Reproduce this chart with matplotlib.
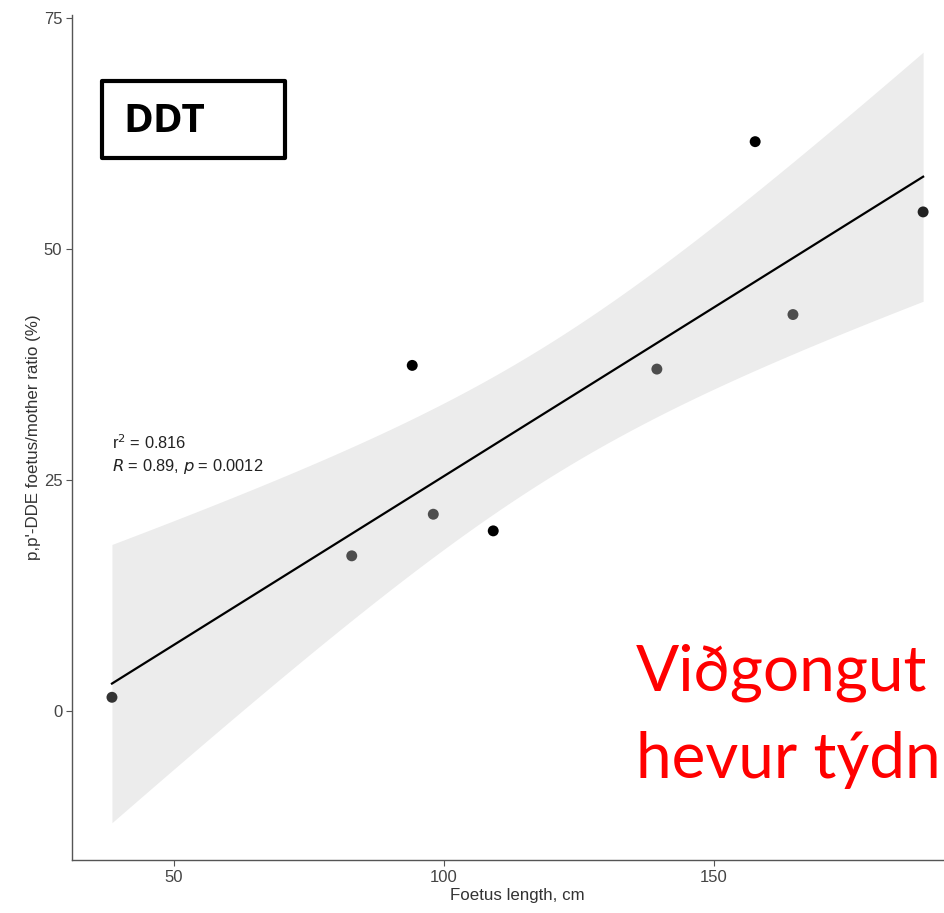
import matplotlib.pyplot as plt
import numpy as np

# foetus length (cm) vs p,p'-DDE foetus/mother ratio (%)
length = np.array([38.5, 82.9, 94.1, 98.0, 109.1, 139.4, 157.6, 164.6, 188.7])
ratio = np.array([1.5, 16.8, 37.4, 21.3, 19.5, 37.0, 61.6, 42.9, 54.0])
point_colors = ["#333333", "#4d4d4d", "black", "#4d4d4d", "black",
                "#4d4d4d", "black", "#4d4d4d", "#222222"]

x_ticks = [50, 100, 150]
y_ticks = [0, 25, 50, 75]

plt.rcParams['font.family'] = ['Liberation Sans', 'DejaVu Sans']

fig = plt.figure(figsize=(9.44, 9.13), dpi=100)
# the panel runs a little past the right edge of the picture
ax = fig.add_axes([72 / 944, 53 / 913, 890 / 944, 845 / 913])

# linear fit with 95% confidence band (like geom_smooth(method="lm"))
n = len(length)
slope, intercept = np.polyfit(length, ratio, 1)
xs = np.linspace(length.min(), length.max(), 200)
fit = intercept + slope * xs
resid = ratio - (intercept + slope * length)
s = np.sqrt(np.sum(resid ** 2) / (n - 2))
sxx = np.sum((length - length.mean()) ** 2)
se = s * np.sqrt(1 / n + (xs - length.mean()) ** 2 / sxx)
t = 2.365  # t(0.975, df=7)
ax.fill_between(xs, fit - t * se, fit + t * se, color="#ececec", lw=0, zorder=1)
ax.plot(xs, fit, color="black", lw=1.6, zorder=2)
ax.scatter(length, ratio, s=62, c=point_colors, zorder=3, linewidths=0)

ax.set_xlim(31.1, 195.9)
ax.set_ylim(-16.1, 75.3)
ax.set_xticks(x_ticks)
ax.set_yticks(y_ticks)
for side in ["top", "right"]:
    ax.spines[side].set_visible(False)
for side in ["left", "bottom"]:
    ax.spines[side].set_color("#555555")
    ax.spines[side].set_linewidth(1.0)
ax.tick_params(length=4, width=0.8, color="#555555", labelcolor="#444444",
               labelsize=12, pad=3)
ax.set_xlabel("Foetus length, cm", fontsize=12.2, color="#333333", labelpad=2)
ax.set_ylabel("p,p'-DDE foetus/mother ratio (%)", fontsize=12.2, color="#333333",
              labelpad=2)

ax.text(38.5, 29.0, r"r$^2$ = 0.816", fontsize=11.8, color="#222222", va="center")
ax.text(38.5, 26.5, r"$R$ = 0.89, $p$ = 0.0012", fontsize=11.8, color="#222222",
        va="center")

# DDT label box
fig.patches.append(plt.Rectangle((102 / 944, 1 - 158 / 913), 183 / 944, 77 / 913,
                                 transform=fig.transFigure, fill=False,
                                 ec="black", lw=3, joinstyle="round"))
fig.text(123 / 944, 1 - 121 / 913, "DDT", fontsize=29, fontweight="bold",
         family="Open Sans", va="center", ha="left")

# red overlay text, cut by the right edge in the original
fig.text(636 / 944, 1 - 690 / 913, "Viðgongut", fontsize=46,
         color="red", family="Lato", va="baseline", ha="left")
fig.text(636 / 944, 1 - 778 / 913, "hevur týdn", fontsize=46,
         color="red", family="Lato", va="baseline", ha="left")

fig.savefig("out.png", dpi=100)
